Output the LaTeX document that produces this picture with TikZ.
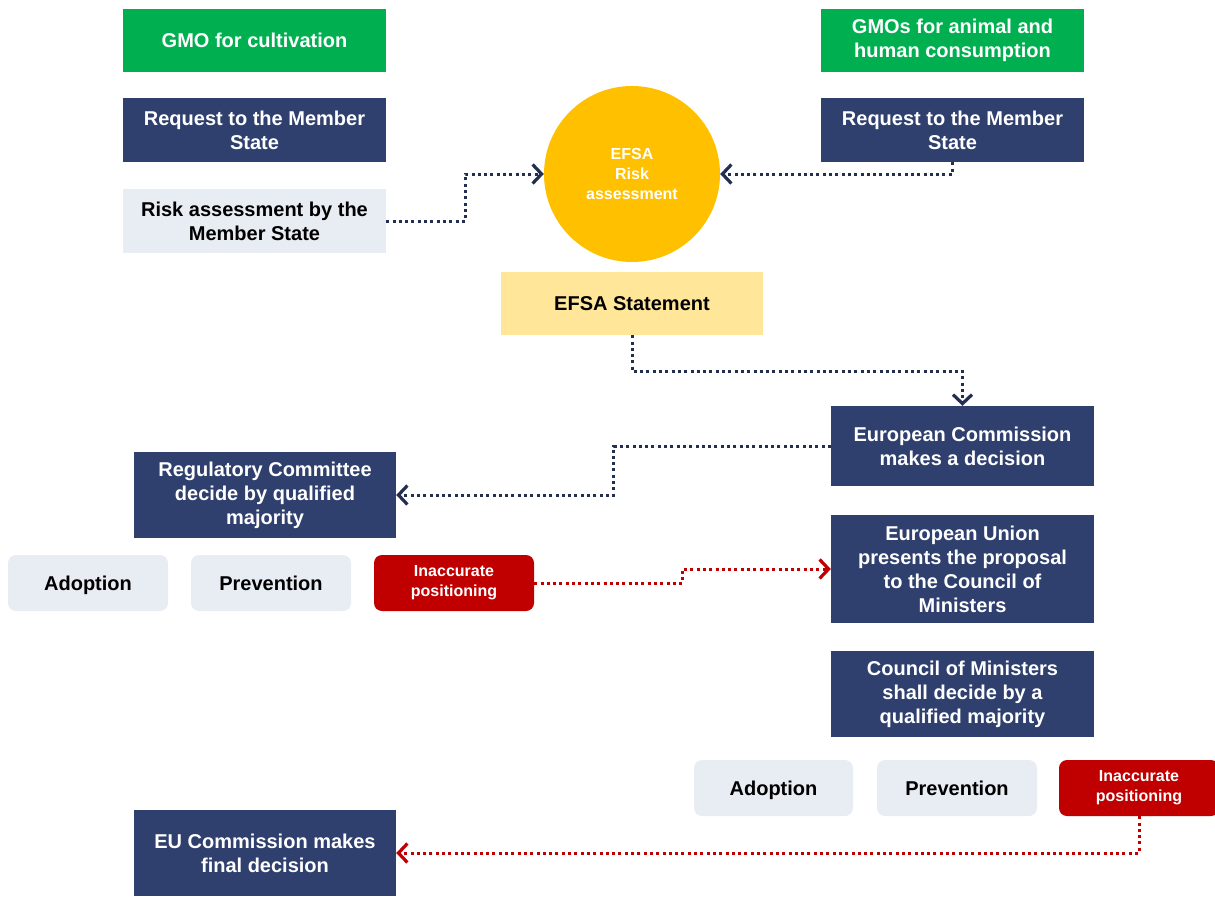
\documentclass[tikz,border=0pt]{standalone}
\usepackage{fontspec}
\setmainfont{Liberation Sans}
\usetikzlibrary{arrows.meta}
\definecolor{dblue}{RGB}{47,64,110}
\definecolor{gmogreen}{RGB}{0,176,80}
\definecolor{lgray}{RGB}{232,236,243}
\definecolor{efsayel}{RGB}{255,192,0}
\definecolor{lyel}{RGB}{255,230,153}
\definecolor{dred}{RGB}{192,0,0}
\definecolor{dotc}{RGB}{35,47,80}
\tikzset{
  base/.style={inner sep=0pt, align=center, font=\fontsize{20}{24}\selectfont\bfseries},
  dbox/.style={base, fill=dblue, text=white, minimum width=263, minimum height=64},
  gbox/.style={base, fill=gmogreen, text=white, minimum width=263, minimum height=63},
  lbox/.style={base, fill=lgray, text=black, minimum width=263, minimum height=64},
  ybox/.style={base, fill=lyel, text=black, minimum width=262, minimum height=63},
  rlight/.style={base, fill=lgray, text=black, rounded corners=8, minimum width=160, minimum height=56},
  rred/.style={base, fill=dred, text=white, rounded corners=8, minimum width=160, minimum height=56, font=\fontsize{16}{20}\selectfont\bfseries},
  circ/.style={base, circle, fill=efsayel, text=white, minimum size=176, font=\fontsize{16}{20}\selectfont\bfseries},
  conn/.style={line width=3pt, dash pattern=on 3pt off 3.3pt, -{Straight Barb[length=9pt,width=19pt,line width=3.2pt]}},
  dconn/.style={conn, draw=dotc},
  rconn/.style={conn, draw=dred},
}
\begin{document}
\begin{tikzpicture}[x=1pt,y=-1pt]
\useasboundingbox (0,0) rectangle (1215,897);
\node[gbox] (cult) at (254.5,40) {GMO for cultivation};
\node[gbox] (consum) at (952.5,40) {GMOs for animal and\\human consumption};
\node[dbox] (reqL) at (254.5,130) {Request to the Member\\State};
\node[dbox] (reqR) at (952.5,130) {Request to the Member\\State};
\node[lbox] (riskMS) at (254.5,221) {Risk assessment by the\\Member State};
\node[circ] (efsa) at (632,174) {EFSA\\Risk\\assessment};
\node[ybox] (stmt) at (632,303.5) {EFSA Statement};
\node[dbox, minimum height=80] (ecdec) at (962.5,446) {European Commission\\makes a decision};
\node[dbox, minimum width=262, minimum height=86] (regc) at (265,495) {Regulatory Committee\\decide by qualified\\majority};
\node[rlight, text depth=0pt] (adopt1) at (88,583) {Adoption};
\node[rlight] (prev1) at (271,583) {Prevention};
\node[rred] (inacc1) at (454,583) {Inaccurate\\positioning};
\node[dbox, minimum height=108] (eup) at (962.5,569) {European Union\\presents the proposal\\to the Council of\\Ministers};
\node[dbox, minimum height=86] (com) at (962.5,694) {Council of Ministers\\shall decide by a\\qualified majority};
\node[rlight, minimum width=159, text depth=0pt] (adopt2) at (773.5,788) {Adoption};
\node[rlight] (prev2) at (957,788) {Prevention};
\node[rred] (inacc2) at (1139,788) {Inaccurate\\positioning};
\node[dbox, minimum width=262, minimum height=86] (final) at (265,853) {EU Commission makes\\final decision};

\draw[dconn] (riskMS.east) -- ++(79,0) |- (efsa.west);
\draw[dconn] (reqR.south) |- (efsa.east);
\draw[dconn] (stmt.south) -- ++(0,36) -| (ecdec.north);
\draw[dconn] (ecdec.west) -- ++(-217,0) |- (regc.east);
\draw[rconn] (inacc1.east) -- ++(148,0) |- (eup.west);
\draw[rconn] (inacc2.south) |- (final.east);
\end{tikzpicture}
\end{document}
